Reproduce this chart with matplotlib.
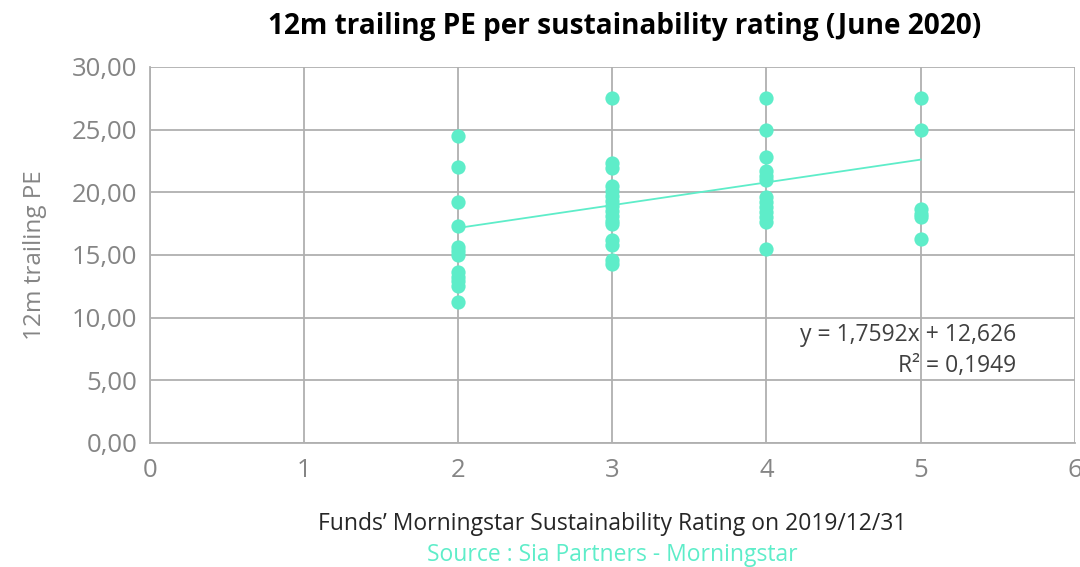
import numpy as np
import matplotlib
matplotlib.use("Agg")
import matplotlib.pyplot as plt
from matplotlib.ticker import FuncFormatter

# PE values, per sustainability rating
pe_rating_2 = [24.5, 22.0, 19.2, 17.3, 15.6, 15.3, 15.0, 13.6, 13.2, 12.9, 12.5, 11.2]
pe_rating_3 = [27.5, 22.3, 21.9, 20.5, 20.1, 19.7, 19.3, 18.9, 18.5, 18.1, 17.7, 17.5,
               16.2, 15.8, 14.6, 14.3]
pe_rating_4 = [27.5, 25.0, 22.8, 21.7, 21.3, 21.0, 19.6, 19.2, 18.8, 18.4, 18.0, 17.6, 15.5]
pe_rating_5 = [27.5, 25.0, 18.7, 18.3, 18.0, 16.3]
ratings = [2, 3, 4, 5]

# trend line as drawn on the chart, and the equation printed next to it
trend_x = [2, 5]
trend_y = [17.15, 22.6]
slope = 1.7592
intercept = 12.626
r_squared = 0.1949

teal = "#5eedc9"
grid_col = "#b0b0b0"
tick_col = "#858585"

plt.rcParams["font.family"] = ["Open Sans", "DejaVu Sans"]

fig = plt.figure(figsize=(10.8, 5.67), dpi=100)
ax = fig.add_axes([0.139, 0.219, 0.856, 0.663])

groups = [pe_rating_2, pe_rating_3, pe_rating_4, pe_rating_5]
for r, vals in zip(ratings, groups):
    ax.scatter([r] * len(vals), vals, s=105, color=teal, zorder=3, linewidths=0)

ax.plot(trend_x, trend_y, color=teal, lw=1.3, zorder=2)

ax.set_xlim(0, 6)
ax.set_ylim(0, 30)
ax.set_xticks(range(0, 7))
ax.set_yticks(np.arange(0, 31, 5))
ax.yaxis.set_major_formatter(FuncFormatter(lambda v, p: f"{v:.2f}".replace(".", ",")))
ax.grid(True, color=grid_col, lw=1.3)
ax.set_axisbelow(True)
for side in ["top", "right"]:
    ax.spines[side].set_visible(False)
for side in ["left", "bottom"]:
    ax.spines[side].set_color(grid_col)
    ax.spines[side].set_linewidth(1.3)
ax.tick_params(axis="both", length=0, colors=tick_col, labelsize=18.5)
ax.tick_params(axis="y", pad=9)
ax.tick_params(axis="x", pad=11)

ax.set_ylabel("12m trailing PE", color=tick_col, fontsize=17.5, labelpad=18)

fig.suptitle("12m trailing PE per sustainability rating (June 2020)", x=0.578, y=0.978,
             fontsize=20.2, fontweight="bold", color="black")

eq = f"y = {slope:.4f}x + {intercept:.3f}".replace(".", ",")
r2 = f"R\u00b2 = {r_squared:.4f}".replace(".", ",")
ax.text(5.62, 8.6, eq, ha="right", va="center", fontsize=16.5, color="#404040")
ax.text(5.62, 6.1, r2, ha="right", va="center", fontsize=16.5, color="#404040")

fig.text(0.567, 0.075, "Funds\u2019 Morningstar Sustainability Rating on 2019/12/31",
         ha="center", va="center", fontsize=16.5, color="#262626")
fig.text(0.567, 0.022, "Source : Sia Partners - Morningstar",
         ha="center", va="center", fontsize=16.5, color=teal)

fig.savefig("out.png", dpi=100)
